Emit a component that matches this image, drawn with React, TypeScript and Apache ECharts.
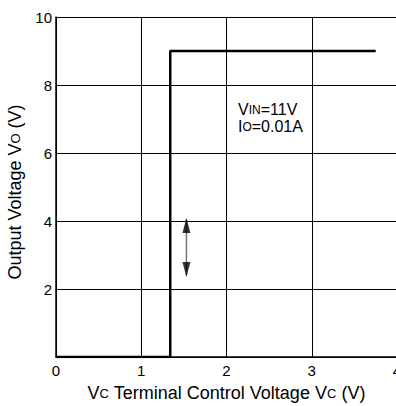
import React, { useEffect, useRef } from "react";
import * as echarts from "echarts";

const xTicks = [0, 1, 2, 3, 4];
const yTicks = [0, 2, 4, 6, 8, 10];
const stepX = [0, 1.34, 1.34, 3.75];
const stepY = [0, 0, 9, 9];
const arrowX = 1.53;
const arrowTopY = 4.05;
const arrowBottomY = 2.4;
const headTopY = 3.87;
const headBottomY = 2.57;
const noteLines = ["V{s|IN}=11V", "I{s|O}=0.01A"];

const FONT = "Liberation Sans, Arial, sans-serif";

export default function App() {
  const ref = useRef<HTMLDivElement>(null);
  useEffect(() => {
    if (!ref.current) return;
    const chart = echarts.init(ref.current, null, { renderer: "svg" });
    const rich = { s: { fontSize: 13, fontFamily: FONT, color: "#000" } };
    chart.setOption({
      animation: false,
      backgroundColor: "#fff",
      textStyle: { fontFamily: FONT },
      grid: { left: 56, top: 17, width: 341, height: 340, outerBoundsMode: "none", containLabel: false },
      xAxis: {
        type: "value",
        min: xTicks[0],
        max: xTicks[xTicks.length - 1],
        interval: 1,
        axisLine: { show: true, lineStyle: { color: "#000", width: 1.5 } },
        axisTick: { show: false },
        splitLine: { show: true, lineStyle: { color: "#000", width: 1 } },
        axisLabel: { color: "#000", fontSize: 15, margin: 6, fontFamily: FONT, showMaxLabel: true },
        name: "V{s|C} Terminal Control Voltage V{s|C} (V)",
        nameLocation: "middle",
        nameGap: 27,
        nameTextStyle: { color: "#000", fontSize: 18, fontFamily: FONT, rich },
      },
      yAxis: {
        type: "value",
        min: yTicks[0],
        max: yTicks[yTicks.length - 1],
        interval: 2,
        axisLine: { show: true, lineStyle: { color: "#000", width: 1.5 } },
        axisTick: { show: false },
        splitLine: { show: true, lineStyle: { color: "#000", width: 1 } },
        axisLabel: {
          color: "#000",
          fontSize: 15,
          margin: 4,
          fontFamily: FONT,
          formatter: (v: number) => (v === 0 ? "" : String(v)),
        },
        name: "Output Voltage V{s|O} (V)",
        nameLocation: "middle",
        nameGap: 29,
        nameTextStyle: { color: "#000", fontSize: 18, fontFamily: FONT, rich, padding: [0, 10, 0, 0] },
      },
      graphic: [
        {
          type: "text",
          left: 238,
          top: 101,
          style: {
            text: noteLines.join("\n"),
            fontSize: 16,
            lineHeight: 17,
            fontFamily: FONT,
            fill: "#000",
            rich: { s: { fontSize: 12, fontFamily: FONT, fill: "#000", lineHeight: 17 } },
          },
        },
      ],
      series: [
        {
          type: "line",
          data: stepX.map((x, i) => [x, stepY[i]]),
          showSymbol: false,
          symbol: "none",
          lineStyle: { color: "#000", width: 2.5 },
          z: 5,
        },
        {
          type: "line",
          data: [
            [arrowX, arrowTopY],
            [arrowX, arrowBottomY],
          ],
          symbol: "none",
          lineStyle: { color: "#777", width: 1.5 },
          z: 4,
        },
        {
          type: "scatter",
          data: [[arrowX, headTopY]],
          symbol: "triangle",
          symbolSize: [8, 15],
          itemStyle: { color: "#000" },
          z: 6,
        },
        {
          type: "scatter",
          data: [[arrowX, headBottomY]],
          symbol: "triangle",
          symbolRotate: 180,
          symbolSize: [8, 15],
          itemStyle: { color: "#000" },
          z: 6,
        },
      ],
    });
    return () => chart.dispose();
  }, []);
  return (
    <div
      ref={ref}
      style={{ position: "absolute", left: 0, top: 0, width: 396, height: 406 }}
    />
  );
}
